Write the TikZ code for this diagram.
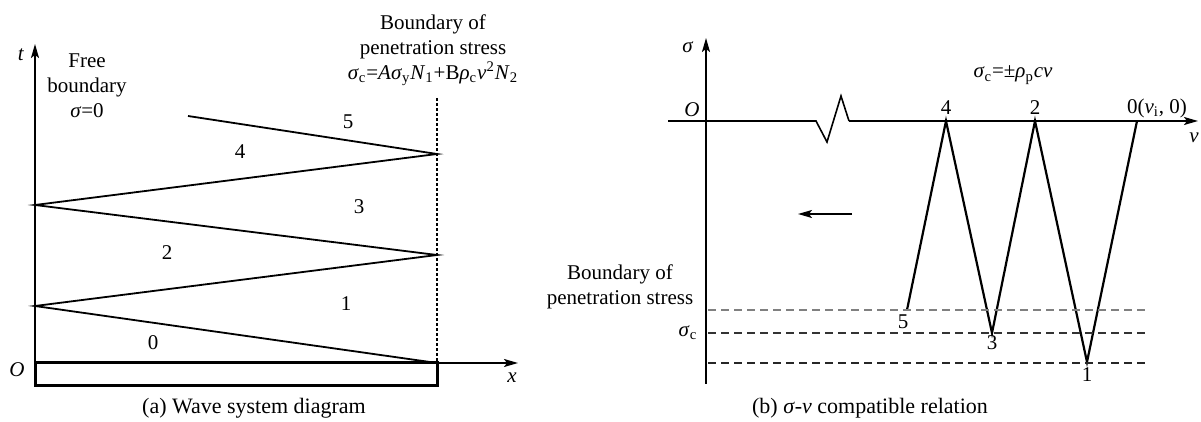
\documentclass[tikz,border=0pt]{standalone}
\usepackage{fontspec}
\setmainfont{Liberation Serif}
\usetikzlibrary{arrows.meta}
\newcommand{\wsym}[1]{\textit{#1}}
\begin{document}
\begin{tikzpicture}[x=0.5pt,y=-0.5pt,
    waveAxis/.style={-{Stealth[length=7pt,width=4pt,inset=1.5pt]},line width=0.8pt},
    waveLine/.style={line width=0.9pt},
    waveZig/.style={line width=1.1pt},
    waveText/.style={font=\fontsize{10.5}{12.5}\selectfont,inner sep=0pt,align=center},
    waveCap/.style={font=\fontsize{11}{13}\selectfont,inner sep=0pt},
    waveDash/.style={line width=0.9pt,dash pattern=on 4pt off 2.5pt},
]
\useasboundingbox (0,0) rectangle (1201,422);
% (a) wave system
\coordinate (tBot) at (35,386);
\coordinate (tTop) at (35,44);
\coordinate (rodA) at (35,363);
\coordinate (rodB) at (437,386);
\coordinate (rodC) at (437,363);
\coordinate (xTip) at (518,363);
\coordinate (bTop) at (437,98);
\draw[waveAxis] (tBot) -- (tTop);
\draw[line width=1.5pt] (rodA) rectangle (rodB);
\draw[waveAxis] (rodC) -- (xTip);
\draw[line width=0.6pt,dash pattern=on 1.5pt off 1pt] (bTop) -- (rodC);
\node[waveText] (tLab) at (21,55) {\wsym{t}};
\node[waveText] (oA) at (17,370) {\wsym{O}};
\node[waveText] (xLab) at (512,378) {\wsym{x}};
\node[waveText] (freeB) at (87,86) {Free\\boundary\\\wsym{σ}=0};
\node[waveText] (penB) at (433,50) {Boundary of\\penetration stress\\\wsym{σ}\textsubscript{c}=\wsym{Aσ}\textsubscript{y}\wsym{N}\textsubscript{1}+B\wsym{ρ}\textsubscript{c}\wsym{v}\textsuperscript{2}\wsym{N}\textsubscript{2}};
\coordinate (w1) at (35,306);
\coordinate (w2) at (437,255);
\coordinate (w3) at (35,205);
\coordinate (w4) at (437,154);
\coordinate (w5) at (188,116);
\draw[waveLine] (rodC) -- (w1) -- (w2) -- (w3) -- (w4) -- (w5);
\foreach \n/\px/\py in {0/153/343,1/346/304,2/167/253,3/359/207,4/240/152,5/348/122}
    \node[waveText] (a\n) at (\px,\py) {\n};
\node[waveCap] (capA) at (254,408) {(a) Wave system diagram};
% (b) sigma-v relation
\coordinate (sBot) at (706,384);
\coordinate (sTop) at (706,38);
\coordinate (vStart) at (668,121);
\coordinate (brk1) at (816,121);
\coordinate (brk2) at (827,142);
\coordinate (brk3) at (841,96);
\coordinate (brk4) at (849,121);
\coordinate (vTip) at (1198,121);
\draw[waveAxis] (sBot) -- (sTop);
\draw[line width=0.8pt] (vStart) -- (brk1) -- (brk2) -- (brk3) -- (brk4);
\draw[waveAxis] (brk4) -- (vTip);
\node[waveText] (sLab) at (688,47) {\wsym{σ}};
\node[waveText] (oB) at (692,110) {\wsym{O}};
\node[waveText] (vLab) at (1194,138) {\wsym{v}};
\node[waveText] (rel) at (1013,75) {\wsym{σ}\textsubscript{c}=±\wsym{ρ}\textsubscript{p}\wsym{cv}};
\coordinate (p5) at (907,310);
\coordinate (p4) at (946,121);
\coordinate (p3) at (992,333);
\coordinate (p2) at (1035,121);
\coordinate (p1) at (1087,362);
\coordinate (p0) at (1137,121);
\draw[waveZig] (p5) -- (p4) -- (p3) -- (p2) -- (p1) -- (p0);
\node[waveText] (b4) at (946,108) {4};
\node[waveText] (b2) at (1035,108) {2};
\node[waveText] (b0) at (1157,108) {0(\wsym{v}\textsubscript{i}, 0)};
\node[waveText] (b5) at (903,322) {5};
\node[waveText] (b3) at (992,343) {3};
\node[waveText] (b1) at (1087,375) {1};
\coordinate (d1a) at (708,310);
\coordinate (d1b) at (1148,310);
\coordinate (d2a) at (708,333);
\coordinate (d2b) at (1148,333);
\coordinate (d3a) at (708,363);
\coordinate (d3b) at (1148,363);
\draw[waveDash,black!50] (d1a) -- (d1b);
\draw[waveDash,black!80] (d2a) -- (d2b);
\draw[waveDash,black!85] (d3a) -- (d3b);
\coordinate (arrR) at (852,214);
\coordinate (arrL) at (798,214);
\draw[waveAxis] (arrR) -- (arrL);
\node[waveText] (sc) at (688,333) {\wsym{σ}\textsubscript{c}};
\node[waveText] (penB2) at (620,287) {Boundary of\\penetration stress};
\node[waveCap] (capB) at (870,408) {(b) \wsym{σ}-\wsym{v} compatible relation};
\end{tikzpicture}
\end{document}
